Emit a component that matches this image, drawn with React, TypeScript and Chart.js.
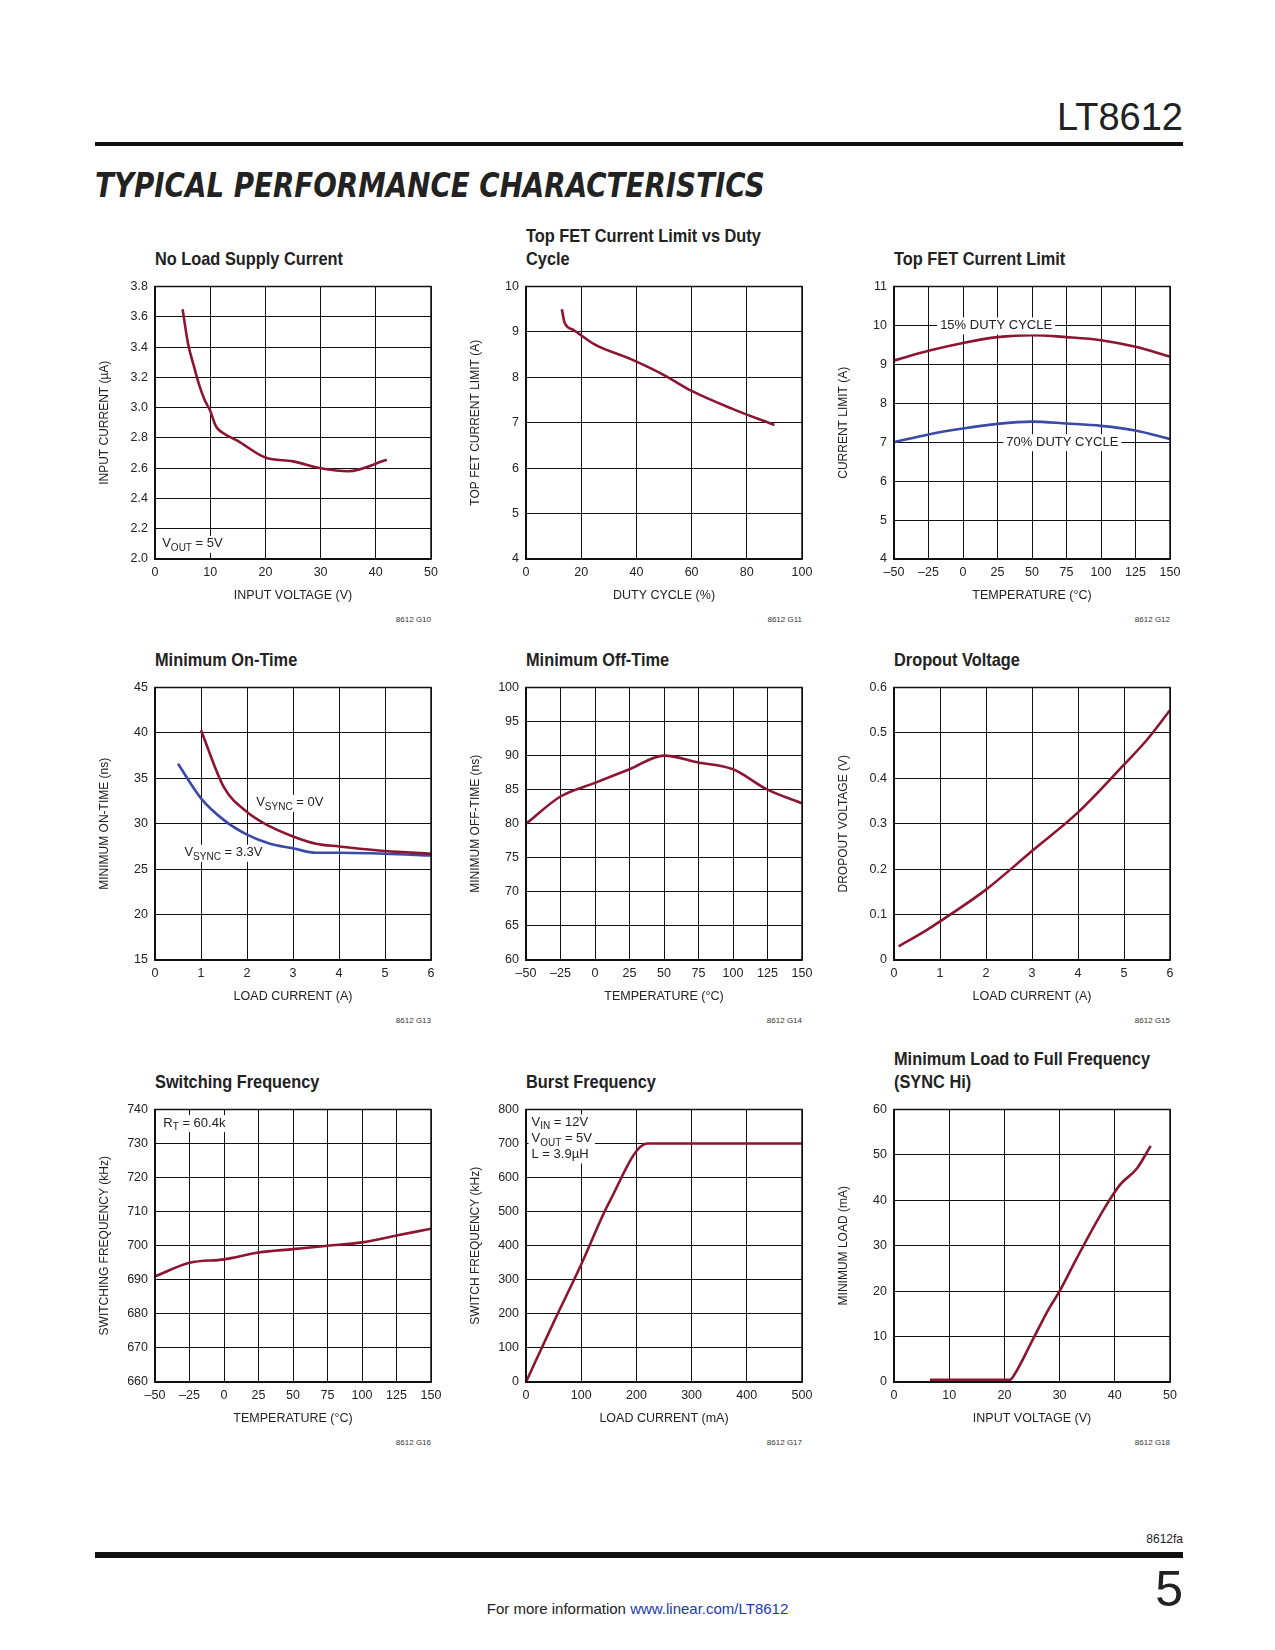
import React, { useEffect, useRef } from "react";
import { Chart, registerables } from "chart.js";
Chart.register(...registerables);

const RED = "#8c1530";
const BLUE = "#3b4aa6";
const FONT = "'Liberation Sans Narrow', 'Liberation Sans', Arial, sans-serif";

// ---- data ----
const c1X = [5, 6, 7, 8, 9, 10, 11, 12, 15, 20, 25, 30, 35, 42];
const c1Y = [3.65, 3.42, 3.28, 3.15, 3.05, 2.98, 2.88, 2.84, 2.78, 2.67, 2.645, 2.6, 2.58, 2.655];
const c2X = [13, 14, 17, 25, 38, 50, 60, 75, 90];
const c2Y = [9.5, 9.2, 9.05, 8.72, 8.4, 8.05, 7.7, 7.3, 6.95];
const tempX = [-50, -25, 0, 25, 50, 75, 100, 125, 150];
const c3Red = [9.1, 9.35, 9.55, 9.7, 9.75, 9.7, 9.62, 9.45, 9.2];
const c3Blue = [7.0, 7.2, 7.35, 7.47, 7.53, 7.48, 7.42, 7.3, 7.08];
const c4RedX = [1, 1.5, 2, 2.5, 3, 3.5, 4, 5, 6];
const c4RedY = [40.3, 34, 31.3, 29.7, 28.6, 27.8, 27.5, 27, 26.7];
const c4BlueX = [0.5, 1, 1.5, 2, 2.5, 3, 3.5, 4, 5, 6];
const c4BlueY = [36.6, 32.8, 30.4, 28.8, 27.8, 27.3, 26.8, 26.8, 26.7, 26.5];
const c5Y = [80, 84, 86, 88, 90, 89, 88, 85, 83];
const c6X = [0.1, 0.7, 1, 2, 3, 4, 5, 5.5, 6];
const c6Y = [0.03, 0.065, 0.085, 0.155, 0.24, 0.325, 0.43, 0.485, 0.55];
const c7Y = [691, 695, 696, 698, 699, 700, 701, 703, 705];
const c8X = [0, 50, 100, 150, 220, 500];
const c8Y = [0, 175, 345, 525, 700, 700];
const c9X = [6.5, 20, 21, 22, 25, 28, 30, 33, 38, 41, 44, 46.5];
const c9Y = [0.5, 0.5, 0.5, 2, 9, 16, 20, 27, 38, 43.5, 47, 52];

const pts = (xs: number[], ys: number[]) => xs.map((x, i) => ({ x, y: ys[i] }));

type Part = { t: string; sub?: boolean };
type Label = { x: number; y: number; parts: Part[]; align?: "left" | "center"; bg?: boolean };

const labelPlugin = (labels: Label[]) => ({
  id: "txtlabels",
  afterDraw(chart: any) {
    const ctx = chart.ctx;
    const xs = chart.scales.x, ys = chart.scales.y;
    ctx.save();
    for (const l of labels) {
      const px = xs.getPixelForValue(l.x);
      const py = ys.getPixelForValue(l.y);
      let w = 0;
      const widths = l.parts.map((p) => {
        ctx.font = `${p.sub ? 10 : 13}px ${FONT}`;
        const m = ctx.measureText(p.t).width;
        w += m;
        return m;
      });
      let x0 = l.align === "center" ? px - w / 2 : px;
      if (l.bg) {
        ctx.fillStyle = "#fff";
        ctx.fillRect(x0 - 3, py - 8, w + 6, 17);
      }
      ctx.fillStyle = "#222";
      ctx.textBaseline = "middle";
      ctx.textAlign = "left";
      l.parts.forEach((p, i) => {
        ctx.font = `${p.sub ? 10 : 13}px ${FONT}`;
        ctx.fillText(p.t, x0, p.sub ? py + 4 : py);
        x0 += widths[i];
      });
    }
    ctx.restore();
  },
});

type Cfg = {
  left: number; top: number; title: string[]; code: string;
  xMin: number; xMax: number; xStep: number; xTitle: string;
  yMin: number; yMax: number; yStep: number; yTitle: string; yDec?: number;
  series: { data: { x: number; y: number }[]; color: string }[];
  labels?: Label[];
};

const PW = 276, PH = 275, LW = 62, TP = 12, RP = 24, BH = 48;

const fmt = (v: number, d = 0) => {
  const s = d && v !== 0 ? v.toFixed(d) : String(Math.round(v * 1000) / 1000);
  return s.replace("-", "–");
};

function MiniChart({ c }: { c: Cfg }) {
  const ref = useRef<HTMLCanvasElement>(null);
  useEffect(() => {
    const ch = new Chart(ref.current!, {
      type: "line",
      data: {
        datasets: c.series.map((s) => ({
          data: s.data, borderColor: s.color, borderWidth: 2.6, pointRadius: 0, cubicInterpolationMode: "monotone", fill: false,
        })),
      },
      options: {
        animation: false, responsive: false, devicePixelRatio: 1,
        layout: { padding: { top: TP, right: RP, left: 0, bottom: 0 } },
        plugins: { legend: { display: false }, tooltip: { enabled: false } },
        scales: {
          x: {
            type: "linear", min: c.xMin, max: c.xMax,
            afterFit: (s: any) => { s.height = BH; },
            afterBuildTicks: (s: any) => {
              const t = [];
              for (let v = c.xMin; v <= c.xMax + 1e-9; v += c.xStep) t.push({ value: v });
              s.ticks = t;
            },
            grid: { color: "#111", lineWidth: 1, drawTicks: false },
            border: { color: "#111", width: 1.5 },
            ticks: { color: "#222", font: { family: FONT, size: 12.5 }, padding: 6, maxRotation: 0, autoSkip: false, callback: (v: any) => fmt(v) },
            title: { display: true, text: c.xTitle, color: "#222", font: { family: FONT, size: 12.5 }, padding: { top: 2 } },
          },
          y: {
            type: "linear", min: c.yMin, max: c.yMax,
            afterFit: (s: any) => { s.width = LW; },
            afterBuildTicks: (s: any) => {
              const t = [];
              for (let v = c.yMin; v <= c.yMax + 1e-9; v += c.yStep) t.push({ value: Math.round(v * 1000) / 1000 });
              s.ticks = t;
            },
            grid: { color: "#111", lineWidth: 1, drawTicks: false },
            border: { color: "#111", width: 1.5 },
            ticks: { color: "#222", font: { family: FONT, size: 12.5 }, padding: 7, autoSkip: false, callback: (v: any) => fmt(v, c.yDec || 0) },
            title: { display: true, text: c.yTitle, color: "#222", font: { family: FONT, size: 12 }, padding: { bottom: 4 } },
          },
        },
      },
      plugins: [
        labelPlugin(c.labels || []),
        {
          id: "frame",
          afterDraw(chart: any) {
            const a = chart.chartArea, ctx = chart.ctx;
            ctx.save(); ctx.strokeStyle = "#111"; ctx.lineWidth = 1.5;
            ctx.strokeRect(a.left, a.top, a.right - a.left, a.bottom - a.top); ctx.restore();
          },
        },
      ],
    } as any);
    return () => ch.destroy();
  }, []);
  const W = LW + PW + RP, H = TP + PH + BH;
  return (
    <>
      <canvas ref={ref} width={W} height={H}
        style={{ position: "absolute", left: c.left - LW, top: c.top - TP, width: W, height: H }} />
      {c.title.map((t, i) => (
        <div key={i} style={{
          position: "absolute", left: c.left, top: c.top - 36 - (c.title.length - 1 - i) * 23,
          font: `bold 19px ${FONT}`, color: "#222", whiteSpace: "nowrap",
          transform: "scaleX(0.86)", transformOrigin: "left",
        }}>{t}</div>
      ))}
      <div style={{ position: "absolute", left: c.left + PW - 100, width: 100, textAlign: "right", top: c.top + PH + 56, font: `8px ${FONT}`, color: "#333" }}>{c.code}</div>
    </>
  );
}

const COLS = [155, 526, 894];
const ROWS = [284, 685, 1107];
const S = (t: string): Part => ({ t });
const B = (t: string): Part => ({ t, sub: true });

const charts: Cfg[] = [
  { left: COLS[0], top: ROWS[0], title: ["No Load Supply Current"], code: "8612 G10",
    xMin: 0, xMax: 50, xStep: 10, xTitle: "INPUT VOLTAGE (V)", yMin: 2, yMax: 3.8, yStep: 0.2, yDec: 1, yTitle: "INPUT CURRENT (µA)",
    series: [{ data: pts(c1X, c1Y), color: RED }], labels: [{ x: 1.3, y: 2.1, parts: [S("V"), B("OUT"), S(" = 5V")], bg: true }] },
  { left: COLS[1], top: ROWS[0], title: ["Top FET Current Limit vs Duty", "Cycle"], code: "8612 G11",
    xMin: 0, xMax: 100, xStep: 20, xTitle: "DUTY CYCLE (%)", yMin: 4, yMax: 10, yStep: 1, yTitle: "TOP FET CURRENT LIMIT (A)",
    series: [{ data: pts(c2X, c2Y), color: RED }] },
  { left: COLS[2], top: ROWS[0], title: ["Top FET Current Limit"], code: "8612 G12",
    xMin: -50, xMax: 150, xStep: 25, xTitle: "TEMPERATURE (°C)", yMin: 4, yMax: 11, yStep: 1, yTitle: "CURRENT LIMIT (A)",
    series: [{ data: pts(tempX, c3Red), color: RED }, { data: pts(tempX, c3Blue), color: BLUE }],
    labels: [{ x: 24, y: 10, parts: [S("15% DUTY CYCLE")], align: "center", bg: true },
             { x: 72, y: 7, parts: [S("70% DUTY CYCLE")], align: "center", bg: true }] },
  { left: COLS[0], top: ROWS[1], title: ["Minimum On-Time"], code: "8612 G13",
    xMin: 0, xMax: 6, xStep: 1, xTitle: "LOAD CURRENT (A)", yMin: 15, yMax: 45, yStep: 5, yTitle: "MINIMUM ON-TIME (ns)",
    series: [{ data: pts(c4RedX, c4RedY), color: RED }, { data: pts(c4BlueX, c4BlueY), color: BLUE }],
    labels: [{ x: 2.2, y: 32.3, parts: [S("V"), B("SYNC"), S(" = 0V")], bg: true },
             { x: 0.64, y: 26.8, parts: [S("V"), B("SYNC"), S(" = 3.3V")], bg: true }] },
  { left: COLS[1], top: ROWS[1], title: ["Minimum Off-Time"], code: "8612 G14",
    xMin: -50, xMax: 150, xStep: 25, xTitle: "TEMPERATURE (°C)", yMin: 60, yMax: 100, yStep: 5, yTitle: "MINIMUM OFF-TIME (ns)",
    series: [{ data: pts(tempX, c5Y), color: RED }] },
  { left: COLS[2], top: ROWS[1], title: ["Dropout Voltage"], code: "8612 G15",
    xMin: 0, xMax: 6, xStep: 1, xTitle: "LOAD CURRENT (A)", yMin: 0, yMax: 0.6, yStep: 0.1, yDec: 1, yTitle: "DROPOUT VOLTAGE (V)",
    series: [{ data: pts(c6X, c6Y), color: RED }] },
  { left: COLS[0], top: ROWS[2], title: ["Switching Frequency"], code: "8612 G16",
    xMin: -50, xMax: 150, xStep: 25, xTitle: "TEMPERATURE (°C)", yMin: 660, yMax: 740, yStep: 10, yTitle: "SWITCHING FREQUENCY (kHz)",
    series: [{ data: pts(tempX, c7Y), color: RED }],
    labels: [{ x: -44, y: 736, parts: [S("R"), B("T"), S(" = 60.4k")], bg: true }] },
  { left: COLS[1], top: ROWS[2], title: ["Burst Frequency"], code: "8612 G17",
    xMin: 0, xMax: 500, xStep: 100, xTitle: "LOAD CURRENT (mA)", yMin: 0, yMax: 800, yStep: 100, yTitle: "SWITCH FREQUENCY (kHz)",
    series: [{ data: pts(c8X, c8Y), color: RED }],
    labels: [{ x: 10, y: 762, parts: [S("V"), B("IN"), S(" = 12V")], bg: true },
             { x: 10, y: 714, parts: [S("V"), B("OUT"), S(" = 5V")], bg: true },
             { x: 10, y: 668, parts: [S("L = 3.9µH")], bg: true }] },
  { left: COLS[2], top: ROWS[2], title: ["Minimum Load to Full Frequency", "(SYNC Hi)"], code: "8612 G18",
    xMin: 0, xMax: 50, xStep: 10, xTitle: "INPUT VOLTAGE (V)", yMin: 0, yMax: 60, yStep: 10, yTitle: "MINIMUM LOAD (mA)",
    series: [{ data: pts(c9X, c9Y), color: RED }] },
];

export default function App() {
  return (
    <div style={{ position: "absolute", left: 0, top: 0, width: 1275, height: 1650, background: "#fff", fontFamily: FONT, color: "#222" }}>
      <div style={{ position: "absolute", right: 92, top: 96, font: `38px 'Liberation Sans', Arial, sans-serif`, fontWeight: 300 }}>LT8612</div>
      <div style={{ position: "absolute", left: 95, top: 142, width: 1088, height: 4, background: "#111" }} />
      <div style={{ position: "absolute", left: 95, top: 166, font: `italic 900 33px 'DejaVu Sans', sans-serif`, whiteSpace: "nowrap", transform: "scaleX(0.84)", transformOrigin: "left" }}>TYPICAL PERFORMANCE CHARACTERISTICS</div>
      {charts.map((c, i) => <MiniChart key={i} c={c} />)}
      <div style={{ position: "absolute", right: 92, top: 1532, font: `12px ${FONT}` }}>8612fa</div>
      <div style={{ position: "absolute", left: 95, top: 1552, width: 1088, height: 6, background: "#111" }} />
      <div style={{ position: "absolute", right: 92, top: 1560, font: `50px 'Liberation Sans', Arial, sans-serif`, fontWeight: 300 }}>5</div>
      <div style={{ position: "absolute", left: 0, width: 1275, textAlign: "center", top: 1600, font: `15px ${FONT}` }}>
        For more information <span style={{ color: "#1a3ab0" }}>www.linear.com/LT8612</span>
      </div>
    </div>
  );
}
